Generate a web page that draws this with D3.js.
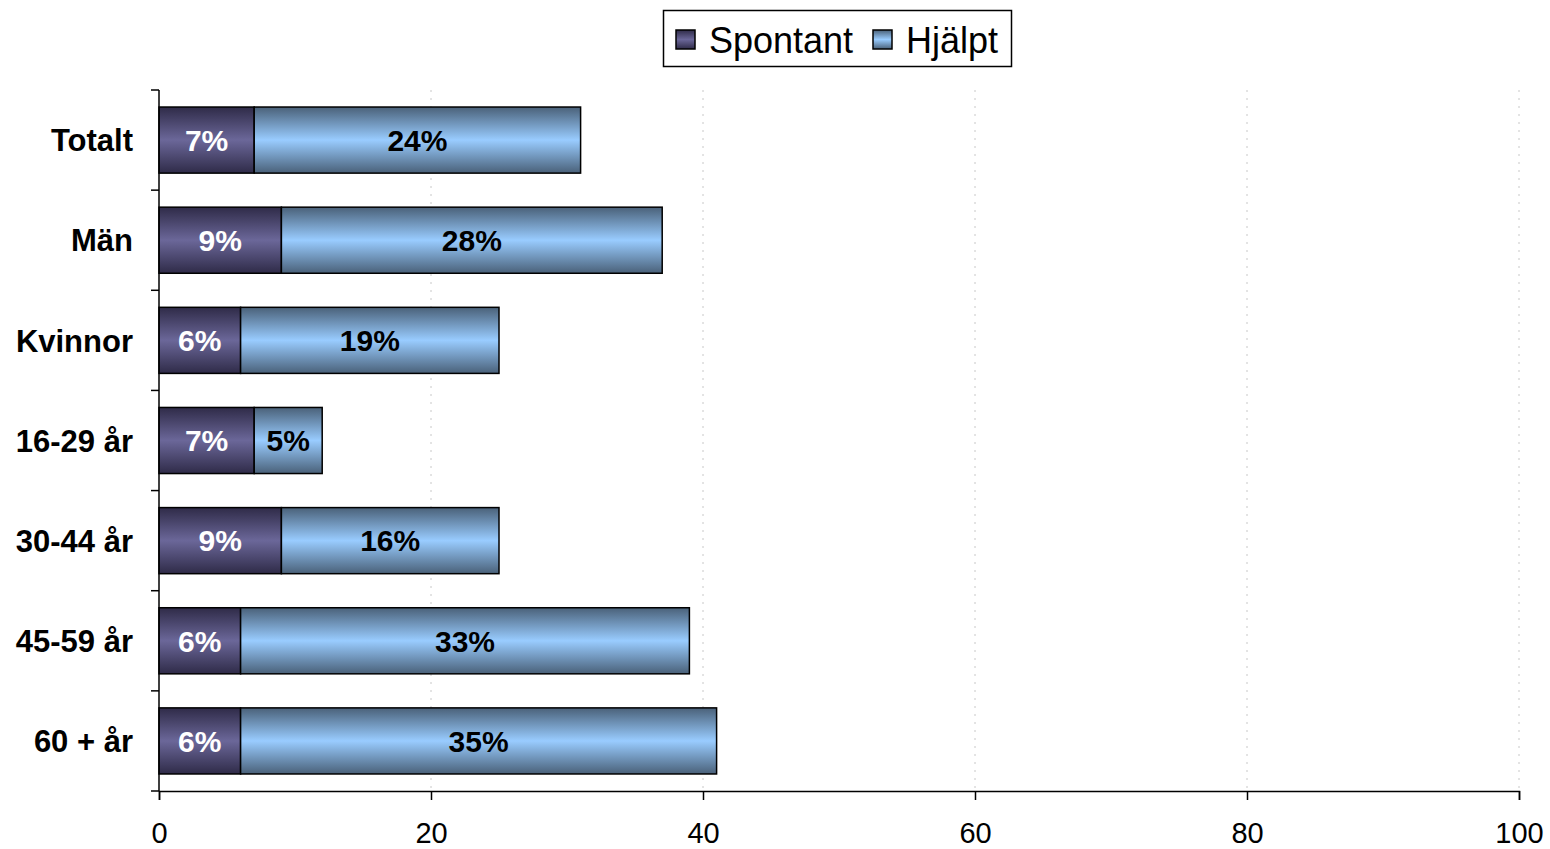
<!DOCTYPE html>
<html><head><meta charset="utf-8">
<script src="https://cdn.jsdelivr.net/npm/d3@7"></script>
<style>body{margin:0;background:#fff}svg{display:block}</style>
</head><body>
<svg id="chart" width="1550" height="849"></svg>
<script>
const categories = ["Totalt","Män","Kvinnor","16-29 år","30-44 år","45-59 år","60 + år"];
const spontant = [7,9,6,7,9,6,6];
const hjalpt = [24,28,19,5,16,33,35];
const seriesNames = ["Spontant","Hjälpt"];
const xTicks = [0,20,40,60,80,100];

const FONT = "Liberation Sans, Arial, sans-serif";
const svg = d3.select("#chart");
const m = {left:159, right:31, top:90, bottom:58};
const W = 1550, H = 849;
const x = d3.scaleLinear().domain([0,100]).range([m.left, W-m.right]);
const y = d3.scaleBand().domain(categories).range([m.top, H-m.bottom]).paddingInner(0.34).paddingOuter(0.17);

const defs = svg.append("defs");
function grad(id, edge, mid){
  const g = defs.append("linearGradient").attr("id",id).attr("x1",0).attr("x2",0).attr("y1",0).attr("y2",1);
  const stops=[[0,edge],[0.5,mid],[1,edge]];
  stops.forEach(s=>g.append("stop").attr("offset",s[0]).attr("stop-color",s[1]));
}
grad("gS","#2f2b48","#6b6799");
grad("gH","#4a6179","#99ccff");

// grid
svg.append("g").selectAll("line").data(xTicks.filter(d=>d>0)).join("line")
  .attr("x1",d=>x(d)).attr("x2",d=>x(d)).attr("y1",m.top).attr("y2",H-m.bottom)
  .attr("stroke","#c8c8c8").attr("stroke-dasharray","2,6").attr("stroke-width",1);

const data = categories.map((c,i)=>({c, s:spontant[i], h:hjalpt[i]}));
const g = svg.append("g");
g.selectAll("rect.s").data(data).join("rect")
  .attr("x",x(0)).attr("y",d=>y(d.c)).attr("width",d=>x(d.s)-x(0)).attr("height",y.bandwidth())
  .attr("fill","url(#gS)").attr("stroke","#000").attr("stroke-width",1.5);
g.selectAll("rect.h").data(data).join("rect")
  .attr("x",d=>x(d.s)).attr("y",d=>y(d.c)).attr("width",d=>x(d.s+d.h)-x(d.s)).attr("height",y.bandwidth())
  .attr("fill","url(#gH)").attr("stroke","#000").attr("stroke-width",1.5);

g.selectAll("text.s").data(data).join("text")
  .attr("x",d=>(x(0)+x(d.s))/2).attr("y",d=>y(d.c)+y.bandwidth()/2).attr("dy","0.36em")
  .attr("text-anchor","middle").attr("fill","#fff").attr("font-family",FONT)
  .attr("font-weight","bold").attr("font-size",30).text(d=>d.s+"%");
g.selectAll("text.h").data(data).join("text")
  .attr("x",d=>(x(d.s)+x(d.s+d.h))/2).attr("y",d=>y(d.c)+y.bandwidth()/2).attr("dy","0.36em")
  .attr("text-anchor","middle").attr("fill","#000").attr("font-family",FONT)
  .attr("font-weight","bold").attr("font-size",30).text(d=>d.h+"%");

// x axis
const xa = svg.append("g").attr("transform",`translate(0,${H-m.bottom})`)
  .call(d3.axisBottom(x).tickValues(xTicks).tickSize(9).tickPadding(22));
xa.select(".domain").attr("stroke","#000").attr("stroke-width",1.5);
xa.selectAll(".tick line").attr("stroke","#000").attr("stroke-width",1.5);
xa.selectAll("text").attr("font-family",FONT).attr("font-size",29).attr("fill","#000");

// y axis
svg.append("line").attr("x1",x(0)).attr("x2",x(0)).attr("y1",m.top).attr("y2",H-m.bottom).attr("stroke","#000").attr("stroke-width",1.5);
const bounds = d3.range(categories.length+1).map(i=>m.top + i*(H-m.bottom-m.top)/categories.length);
svg.append("g").selectAll("line").data(bounds).join("line")
  .attr("x1",x(0)-8).attr("x2",x(0)).attr("y1",d=>d).attr("y2",d=>d).attr("stroke","#000").attr("stroke-width",1.5);
svg.append("g").selectAll("text").data(categories).join("text")
  .attr("x",133).attr("y",d=>y(d)+y.bandwidth()/2).attr("dy","0.36em").attr("text-anchor","end")
  .attr("font-family",FONT).attr("font-weight","bold").attr("font-size",31).text(d=>d);

// legend
const lg = svg.append("g");
lg.append("rect").attr("x",663.5).attr("y",10.5).attr("width",348).attr("height",56).attr("fill","#fff").attr("stroke","#000").attr("stroke-width",1.5);
const legItems = [{n:seriesNames[0],f:"url(#gS)",x:676,tx:709},{n:seriesNames[1],f:"url(#gH)",x:873,tx:906}];
legItems.forEach(it=>{
  lg.append("rect").attr("x",it.x).attr("y",30).attr("width",19).attr("height",19).attr("fill",it.f).attr("stroke","#000").attr("stroke-width",1.5);
  lg.append("text").attr("x",it.tx).attr("y",40).attr("dy","0.36em").attr("font-family",FONT).attr("font-size",36).text(it.n);
});
</script>
</body></html>
